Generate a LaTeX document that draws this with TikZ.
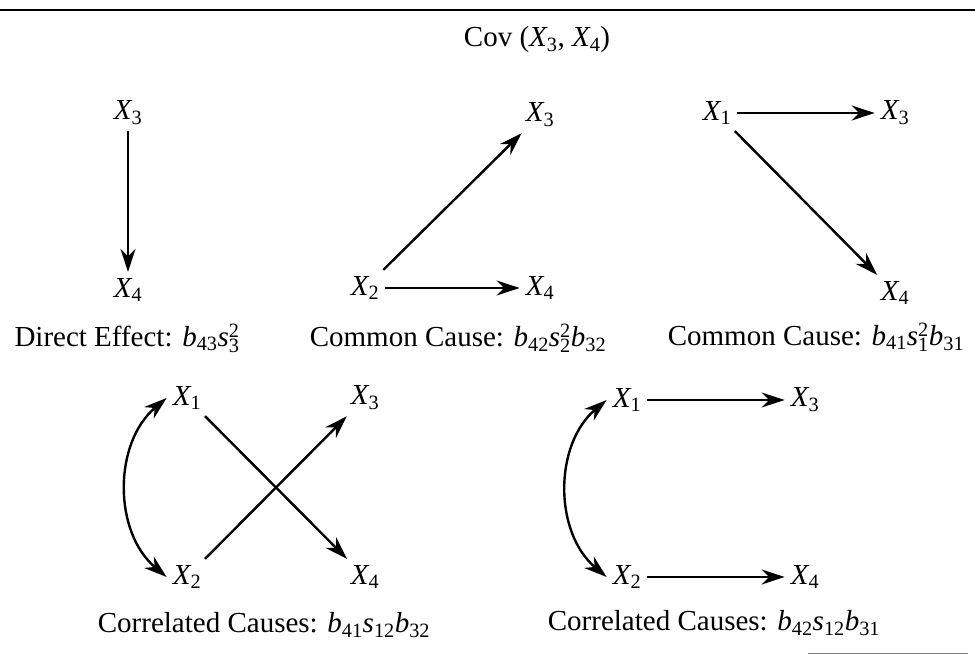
\documentclass[tikz,border=0pt]{standalone}
\usepackage{fontspec}
\setmainfont{Liberation Serif}
\usepackage{tikz}
\usetikzlibrary{arrows.meta}

\newcommand{\iv}[2]{\mathit{#1}_{\mathrm{#2}}}
\newcommand{\ivsq}[1]{\mathit{s}_{\mathrm{#1}}^{\mathrm{2}}}

\begin{document}
\begin{tikzpicture}[x=1pt, y=-1pt,
        xnode/.style={inner sep=6pt, font=\fontsize{29}{34}\selectfont},
        lbl/.style={inner sep=0pt, font=\fontsize{29}{34}\selectfont},
        arr/.style={-{Stealth[length=23pt, width=15pt]}, line width=2.4pt},
        dbl/.style={{Stealth[length=23pt, width=15pt]}-{Stealth[length=23pt, width=15pt]}, line width=2.4pt}]
        \useasboundingbox (0,0) rectangle (975,655);
        \draw[line width=1.8pt] (0,10) -- (975,10);
        \draw[gray, line width=1pt] (808,653) -- (968,653);
        \node[lbl] (title) at (537,40) {Cov ($\iv{X}{3}$, $\iv{X}{4}$)};

        \node[xnode] (a3) at (128,113) {$\iv{X}{3}$};
        \node[xnode] (a4) at (128,290) {$\iv{X}{4}$};
        \node[lbl] (la) at (127,338) {Direct Effect: $\iv{b}{43}\ivsq{3}$};
        \draw[arr] (a3) -- (a4);

        \node[xnode] (b3) at (540,115) {$\iv{X}{3}$};
        \node[xnode] (b2) at (365,288) {$\iv{X}{2}$};
        \node[xnode] (b4) at (540,288) {$\iv{X}{4}$};
        \node[lbl] (lb) at (458,338) {Common Cause: $\iv{b}{42}\ivsq{2}\iv{b}{32}$};
        \draw[arr] (b2) -- (b3); \draw[arr] (b2) -- (b4);

        \node[xnode] (c1) at (717,113) {$\iv{X}{1}$};
        \node[xnode] (c3) at (895,113) {$\iv{X}{3}$};
        \node[xnode] (c4) at (895,293) {$\iv{X}{4}$};
        \node[lbl] (lc) at (816,337) {Common Cause: $\iv{b}{41}\ivsq{1}\iv{b}{31}$};
        \draw[arr] (c1) -- (c3); \draw[arr] (c1) -- (c4);

        \node[xnode] (d1) at (187,398) {$\iv{X}{1}$};
        \node[xnode] (d3) at (365,398) {$\iv{X}{3}$};
        \node[xnode] (d2) at (187,577) {$\iv{X}{2}$};
        \node[xnode] (d4) at (365,577) {$\iv{X}{4}$};
        \node[lbl] (ld) at (264,625) {Correlated Causes: $\iv{b}{41}\iv{s}{12}\iv{b}{32}$};
        \draw[dbl] (d1.west) to[bend right=50] (d2.west);
        \draw[arr] (d1) -- (d4); \draw[arr] (d2) -- (d3);

        \node[xnode] (e1) at (627,400) {$\iv{X}{1}$};
        \node[xnode] (e3) at (805,400) {$\iv{X}{3}$};
        \node[xnode] (e2) at (627,577) {$\iv{X}{2}$};
        \node[xnode] (e4) at (805,577) {$\iv{X}{4}$};
        \node[lbl] (le) at (714,623) {Correlated Causes: $\iv{b}{42}\iv{s}{12}\iv{b}{31}$};
        \draw[dbl] (e1.west) to[bend right=50] (e2.west);
        \draw[arr] (e1) -- (e3); \draw[arr] (e2) -- (e4);
    \end{tikzpicture}
\end{document}
